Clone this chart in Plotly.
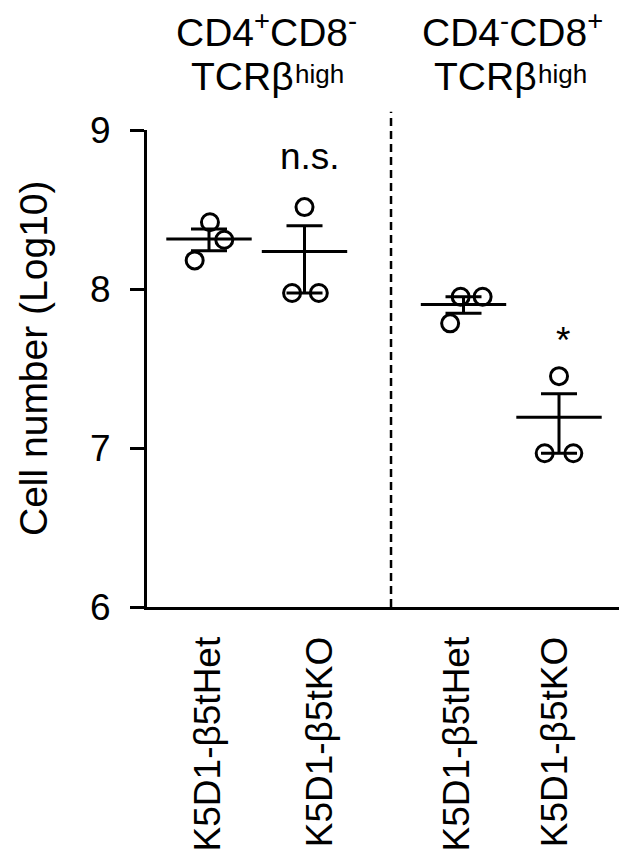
import numpy as np
import plotly.graph_objects as go

# Cell numbers (log10) per mouse
genotypes = ["K5D1-β5tHet", "K5D1-β5tKO"]
cd4_het = [8.42, 8.31, 8.18]
cd4_ko = [8.515, 7.975, 7.975]
cd8_het = [7.951, 7.951, 7.784]
cd8_ko = [7.452, 6.967, 6.967]
y_ticks = [6, 7, 8, 9]
subset_line1 = ["CD4<sup>+</sup>CD8<sup>-</sup>", "CD4<sup>-</sup>CD8<sup>+</sup>"]
subset_line2 = ["TCRβ", "TCRβ"]
subset_sup = ["high", "high"]
stars = ["n.s.", "*"]

FONT = "Arial, Liberation Sans, sans-serif"
BLACK = "#000000"

# horizontal layout (x axis units)
centers = [1.0, 2.0, 3.665, 4.665]
label_pos = [0.99, 2.16, 3.60, 4.62]
jitter = [
    [0.01, 0.16, -0.15],
    [0.0, -0.13, 0.15],
    [-0.03, 0.20, -0.14],
    [0.0, -0.15, 0.15],
]
series = [cd4_het, cd4_ko, cd8_het, cd8_ko]

fig = go.Figure()

for cx, offs, vals in zip(centers, jitter, series):
    lin = 10 ** np.array(vals)
    m = lin.mean()
    sem = lin.std(ddof=1) / np.sqrt(len(lin))
    mean_log = np.log10(m)
    up = np.log10(m + sem) - mean_log
    dn = mean_log - np.log10(m - sem)
    # individual mice
    fig.add_trace(go.Scatter(
        x=[cx + o for o in offs], y=vals, mode="markers",
        marker=dict(symbol="circle-open", size=17, color=BLACK,
                    line=dict(width=3, color=BLACK)),
        showlegend=False, hoverinfo="y",
    ))
    # mean with SEM
    fig.add_trace(go.Scatter(
        x=[cx], y=[mean_log], mode="markers",
        marker=dict(symbol="line-ew", size=61, color=BLACK,
                    line=dict(width=3, color=BLACK)),
        error_y=dict(type="data", symmetric=False, array=[up], arrayminus=[dn],
                     color=BLACK, thickness=3, width=18),
        showlegend=False, hoverinfo="y",
    ))

# divider between the two subsets
fig.add_shape(type="line", xref="x", yref="paper", x0=2.906, x1=2.906, y0=0, y1=1.038,
              line=dict(color=BLACK, width=2.5, dash="8px,5px"))

# subset headers
head_font = dict(family=FONT, size=39, color=BLACK)
for l1, l2, sup, x1, x2, x3 in zip(subset_line1, subset_line2, subset_sup,
                                   [1.607, 4.173], [1.35, 3.895], [2.16, 4.705]):
    fig.add_annotation(x=x1, y=1.2105, xref="x", yref="paper", text=l1, showarrow=False,
                       font=head_font, xanchor="center", yanchor="middle")
    fig.add_annotation(x=x2, y=1.112, xref="x", yref="paper", text=l2, showarrow=False,
                       font=head_font, xanchor="center", yanchor="middle")
    fig.add_annotation(x=x3, y=1.117, xref="x", yref="paper", text=sup, showarrow=False,
                       font=dict(family=FONT, size=26, color=BLACK),
                       xanchor="center", yanchor="middle")

# significance marks
fig.add_annotation(x=2.058, y=9 + (130 - 156) / 158.9, xref="x", yref="y", text=stars[0],
                   showarrow=False, font=dict(family=FONT, size=37, color=BLACK))
fig.add_annotation(x=4.707, y=9 + (130 - 340) / 158.9, xref="x", yref="y", text=stars[1],
                   showarrow=False, font=dict(family=FONT, size=37, color=BLACK))

# y axis title
fig.add_annotation(x=-0.2415, y=0.522, xref="paper", yref="paper", text="Cell number (Log10)",
                   textangle=-90, showarrow=False, font=dict(family=FONT, size=39, color=BLACK),
                   xanchor="center", yanchor="middle")

fig.update_layout(
    width=619, height=852,
    margin=dict(l=147, r=0, t=130, b=245, pad=0),
    paper_bgcolor="white", plot_bgcolor="white",
    font=dict(family=FONT, size=37, color=BLACK),
    showlegend=False,
)
fig.update_xaxes(
    range=[0.3508, 5.2932], showgrid=False, zeroline=False,
    showline=True, linecolor=BLACK, linewidth=3,
    tickmode="array", tickvals=label_pos, ticktext=genotypes * 2,
    tickangle=-90, ticks="", ticklabelstandoff=12,
    tickfont=dict(family=FONT, size=37, color=BLACK),
)
fig.update_yaxes(
    range=[6, 9], showgrid=False, zeroline=False,
    showline=True, linecolor=BLACK, linewidth=3,
    tickmode="array", tickvals=y_ticks, ticks="outside", ticklen=14, tickwidth=3, tickcolor=BLACK,
    ticklabelstandoff=12,
    tickfont=dict(family=FONT, size=37, color=BLACK),
)

fig.write_html("out.html")
